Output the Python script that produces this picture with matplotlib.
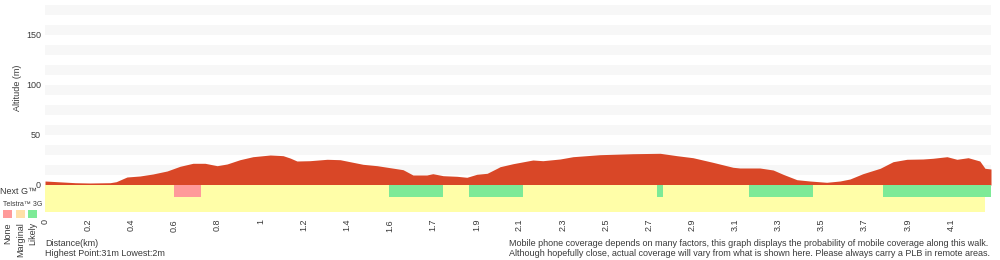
import matplotlib
matplotlib.use("Agg")
import matplotlib.pyplot as plt
from matplotlib.patches import Rectangle

plt.rcParams['font.family'] = ['Liberation Sans', 'DejaVu Sans']

# ---- data (x in tick-index units; ticks evenly spaced along the walk) ----
tick_labels = ["0", "0.2", "0.4", "0.6", "0.8", "1", "1.2", "1.4", "1.6", "1.7", "1.9",
               "2.1", "2.3", "2.5", "2.7", "2.9", "3.1", "3.3", "3.5", "3.7", "3.9", "4.1"]
x_end = 21.93

prof_x = [0.00, 0.70, 1.04, 1.51, 1.65, 1.90, 2.20, 2.50, 2.83, 3.13, 3.43, 3.71, 3.99, 4.22,
          4.52, 4.82, 5.15, 5.22, 5.45, 5.52, 5.68, 5.84, 6.14, 6.54, 6.84, 7.07, 7.37, 7.70,
          8.00, 8.30, 8.53, 8.85, 8.99, 9.23, 9.55, 9.78, 10.01, 10.25, 10.48, 10.55, 10.85,
          11.31, 11.54, 11.94, 12.24, 12.86, 13.63, 14.26, 14.65, 15.02, 15.48, 15.95, 16.11,
          16.57, 16.88, 17.11, 17.43, 17.73, 18.12, 18.43, 18.66, 18.96, 19.36, 19.66, 19.98,
          20.35, 20.58, 20.91, 21.14, 21.40, 21.67, 21.79, 21.93]
prof_alt = [4.0, 2.3, 2.0, 2.3, 3.3, 8.0, 9.0, 11.0, 14.0, 18.7, 21.7, 21.7, 19.3, 21.0,
            25.3, 28.3, 29.7, 30.0, 29.5, 29.3, 27.0, 24.0, 24.3, 25.7, 25.3, 23.3, 20.7, 19.3,
            17.3, 15.3, 10.0, 10.0, 11.3, 9.3, 8.7, 7.7, 10.7, 11.7, 16.7, 18.3, 21.3,
            25.0, 24.3, 26.0, 28.3, 30.3, 31.3, 31.7, 29.3, 27.3, 22.7, 17.7, 17.0,
            17.0, 15.0, 10.7, 5.3, 4.0, 2.7, 4.0, 6.0, 11.3, 16.7, 23.3, 25.7,
            26.0, 26.7, 28.3, 25.7, 27.3, 24.0, 16.7, 16.0]

# coverage segments (start, end, status)
nextg_start = [0.00, 2.99, 3.62, 7.97, 9.23, 9.83, 11.08, 14.19, 14.33, 16.32, 17.80, 19.43]
nextg_end   = [2.99, 3.62, 7.97, 9.23, 9.83, 11.08, 14.19, 14.33, 16.32, 17.80, 19.43, 21.93]
nextg_state = ["Marginal", "None", "Marginal", "Likely", "Marginal", "Likely", "Marginal",
               "Likely", "Marginal", "Likely", "Marginal", "Likely"]
g3_start = [0.00]
g3_end = [21.79]
g3_state = ["Marginal"]

legend_labels = ["None", "Marginal", "Likely"]
cov_colors = {"None": "#ff9a9a", "Marginal": "#fffea8", "Likely": "#7dea97"}
legend_colors = ["#ff9a9a", "#ffe0a8", "#7dea97"]

red = "#d94727"
stripe = "#f7f7f7"
txt = "#3a3a3a"

W, H = 1000, 260
fig = plt.figure(figsize=(W / 100, H / 100), dpi=100)
left_px, right_px, top_px, bot_px = 45, 991, 0, 212
ax = fig.add_axes([left_px / W, 1 - bot_px / H, (right_px - left_px) / W, (bot_px - top_px) / H])
ax.set_xlim(0, x_end)
ax.set_ylim(-27, 185)

for k in range(9):
    ax.axhspan(10 + 20 * k, 20 + 20 * k, color=stripe, lw=0, zorder=0)

ax.fill_between(prof_x, 0, prof_alt, color=red, lw=0, zorder=2)

for s, e, st in zip(nextg_start, nextg_end, nextg_state):
    ax.add_patch(Rectangle((s, -12), e - s, 12, color=cov_colors[st], lw=0, zorder=3))
for s, e, st in zip(g3_start, g3_end, g3_state):
    ax.add_patch(Rectangle((s, -27), e - s, 15, color=cov_colors[st], lw=0, zorder=3))

for sp in ax.spines.values():
    sp.set_visible(False)
ax.set_yticks([0, 50, 100, 150])
ax.set_xticks(range(len(tick_labels)))
ax.set_xticklabels(tick_labels, rotation=90, va="top")
ax.tick_params(length=0, labelsize=6.5, colors=txt, pad=5)
ax.tick_params(axis="y", pad=3)

fig.text(17 / W, 1 - 88 / H, "Altitude (m)", rotation=90, ha="center", va="center",
         fontsize=6.5, color=txt)

fig.text(0 / W, 1 - 191 / H, "Next G™", ha="left", va="center", fontsize=6.5, color=txt)
fig.text(3 / W, 1 - 204.5 / H, "Telstra™ 3G", ha="left", va="center", fontsize=5, color=txt)
for i, (lab, c) in enumerate(zip(legend_labels, legend_colors)):
    x0 = 3 + i * 12.5
    fig.patches.append(Rectangle((x0 / W, 1 - 218 / H), 9 / W, 8 / H, color=c, lw=0,
                                 transform=fig.transFigure, figure=fig))
    fig.text((x0 + 5) / W, 1 - 222 / H, lab, rotation=90, ha="center", va="top",
             fontsize=6.5, color=txt)

fig.text(45 / W, 1 - 243 / H, "Distance(km)", ha="left", va="center", fontsize=6.5, color=txt)
fig.text(45 / W, 1 - 253 / H, "Highest Point:31m Lowest:2m", ha="left", va="center",
         fontsize=6.5, color=txt)
fig.text(509 / W, 1 - 243 / H,
         "Mobile phone coverage depends on many factors, this graph displays the probability of mobile coverage along this walk.",
         ha="left", va="center", fontsize=6.5, color=txt)
fig.text(509 / W, 1 - 253 / H,
         "Although hopefully close, actual coverage will vary from what is shown here. Please always carry a PLB in remote areas.",
         ha="left", va="center", fontsize=6.5, color=txt)

fig.savefig("out.png", dpi=100, facecolor="white")
